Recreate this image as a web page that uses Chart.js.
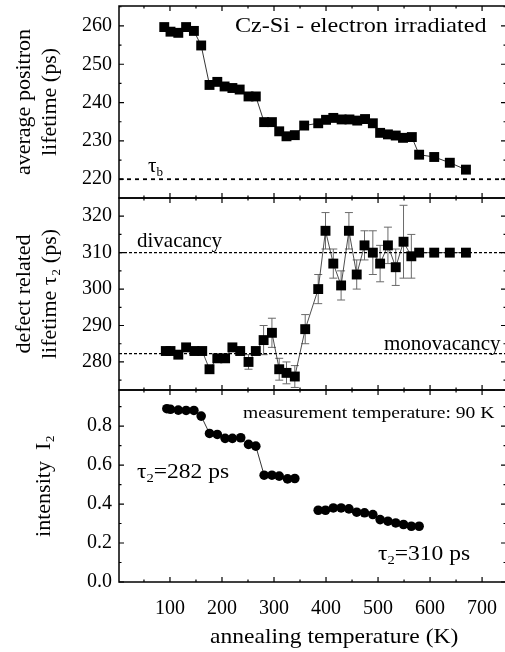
<!DOCTYPE html>
<html>
<head>
<meta charset="utf-8">
<script src="https://cdn.jsdelivr.net/npm/chart.js@4.4.1/dist/chart.umd.min.js"></script>
<style>
  html, body { margin: 0; padding: 0; background: #fff; overflow: hidden; }
  #wrap { position: relative; width: 505px; height: 652px; overflow: hidden; }
  canvas { position: absolute; left: 0; }
</style>
</head>
<body>
<div id="wrap">
  <canvas id="c-top" width="510" height="200" style="top:0px"></canvas>
  <canvas id="c-mid" width="510" height="210" style="top:190px"></canvas>
  <canvas id="c-bot" width="510" height="270" style="top:382px"></canvas>
</div>
<script>
// 数据
// 上: 平均正电子寿命
const tempAvg = [89, 101, 116, 131, 146, 160, 176, 191, 205, 220, 234, 251, 265, 281, 296, 310, 324, 340, 358,
  385, 400, 414, 430, 445, 460, 475, 490, 504, 519, 534, 548, 565, 579, 608, 638, 669];
const avgLifetime = [259.7, 258.5, 258.2, 259.7, 258.7, 254.9, 244.6, 245.4, 244.2, 243.8, 243.4, 241.6, 241.6,
  234.9, 234.9, 232.5, 231.2, 231.5, 234.0, 234.6, 235.5, 236.0, 235.6, 235.6, 235.3, 235.7, 234.6,
  232.1, 231.7, 231.4, 230.8, 231.0, 226.4, 225.8, 224.3, 222.5];
const tauBulk = 220;

// 中: 缺陷相关寿命 tau2 及误差
const tempTau2 = [92, 101, 116, 131, 147, 162, 176, 191, 206, 220, 235, 251, 265, 280, 296, 310, 324, 340, 360,
  385, 399, 414, 429, 444, 459, 474, 490, 504, 519, 534, 549, 564, 579, 608, 638, 669];
const tau2 = [283, 283, 282, 284, 283, 283, 278, 281, 281, 284, 283, 280, 283, 286, 288, 278, 277, 276, 289,
  300, 316, 307, 301, 316, 304, 312, 310, 307, 312, 306, 313, 309, 310, 310, 310, 310];
const tau2Err = [0, 0, 0, 0, 0, 0, 0, 0, 0, 0, 0, 2, 0, 4, 4, 3, 3, 3, 4,
  4, 5, 4, 4, 5, 4, 4, 6, 5, 5, 5, 10, 6, 0, 0, 0, 0];
const divacancy = 310;
const monovacancy = 282.3;

// 下: 强度 I2 (两段)
const tempI2Low = [94, 101, 116, 131, 146, 160, 176, 191, 206, 220, 236, 251, 265, 281, 296, 310, 326, 340];
const i2Low = [0.889, 0.886, 0.882, 0.880, 0.880, 0.851, 0.762, 0.757, 0.737, 0.737, 0.740, 0.706, 0.697,
  0.548, 0.548, 0.543, 0.529, 0.531];
const tempI2High = [385, 399, 414, 429, 444, 459, 474, 490, 504, 519, 534, 549, 564, 579];
const i2High = [0.368, 0.368, 0.380, 0.380, 0.375, 0.358, 0.355, 0.346, 0.320, 0.312, 0.303, 0.295, 0.286, 0.286];

// 刻度
const xMin = 2, xMax = 746;
const xMajor = [100, 200, 300, 400, 500, 600, 700];
const xMinor = [50, 150, 250, 350, 450, 550, 650, 750];
const yTopMajor = [220, 230, 240, 250, 260];
const yTopMinor = [225, 235, 245, 255, 265];
const yMidMajor = [280, 290, 300, 310, 320];
const yMidMinor = [275, 285, 295, 305, 315];
const yBotMajor = [0, 0.2, 0.4, 0.6, 0.8];
const yBotMinor = [0.1, 0.3, 0.5, 0.7, 0.9];

const SERIF = "'Liberation Serif', 'DejaVu Serif', serif";
const pts = (xs, ys) => xs.map((x, i) => ({ x, y: ys[i] }));

// 边框与向内的刻度线
function makeFrame(yMajor, yMinor) {
  return {
    id: 'frame',
    afterDraw(chart) {
      const { ctx, chartArea: a, scales: { x, y } } = chart;
      ctx.save();
      ctx.strokeStyle = '#000';
      ctx.lineWidth = 1.5;
      ctx.strokeRect(a.left, a.top, a.right - a.left, a.bottom - a.top);
      ctx.lineWidth = 1.2;
      ctx.beginPath();
      for (const [vals, len] of [[xMajor, 5], [xMinor, 2.5]]) {
        for (const v of vals) {
          const px = x.getPixelForValue(v);
          if (px < a.left || px > a.right) continue;
          ctx.moveTo(px, a.top); ctx.lineTo(px, a.top + len);
          ctx.moveTo(px, a.bottom); ctx.lineTo(px, a.bottom - len);
        }
      }
      for (const [vals, len] of [[yMajor, 5], [yMinor, 2.5]]) {
        for (const v of vals) {
          const py = y.getPixelForValue(v);
          if (py < a.top || py > a.bottom) continue;
          ctx.moveTo(a.left, py); ctx.lineTo(a.left + len, py);
          ctx.moveTo(a.right, py); ctx.lineTo(a.right - len, py);
        }
      }
      ctx.stroke();
      ctx.restore();
    }
  };
}

// 文字 (支持下标, 横向拉伸 sx): parts = [[text, isSub], ...]
function drawParts(ctx, parts, x, y, size, sx) {
  ctx.save();
  ctx.translate(x, y);
  ctx.scale(sx || 1, 1);
  let cx = 0;
  for (const [t, sub] of parts) {
    const s = sub ? size * 0.62 : size;
    ctx.font = `${s}px ${SERIF}`;
    ctx.fillText(t, cx, sub ? size * 0.2 : 0);
    cx += ctx.measureText(t).width;
  }
  ctx.restore();
}
function makeLabels(items) {
  return {
    id: 'labels',
    afterDraw(chart) {
      const ctx = chart.ctx;
      ctx.save();
      ctx.fillStyle = '#000';
      ctx.textBaseline = 'alphabetic';
      for (const it of items) drawParts(ctx, it.parts, it.x, it.y, it.size, it.sx);
      ctx.restore();
    }
  };
}

// 误差棒
function makeErrorBars(xs, ys, errs) {
  return {
    id: 'errorBars',
    beforeDatasetsDraw(chart) {
      const { ctx, scales: { x, y } } = chart;
      ctx.save();
      ctx.strokeStyle = '#6a6a6a';
      ctx.lineWidth = 1;
      ctx.beginPath();
      xs.forEach((t, i) => {
        if (!errs[i]) return;
        const px = x.getPixelForValue(t);
        const y1 = y.getPixelForValue(ys[i] + errs[i]);
        const y2 = y.getPixelForValue(ys[i] - errs[i]);
        ctx.moveTo(px, y1); ctx.lineTo(px, y2);
        ctx.moveTo(px - 4, y1); ctx.lineTo(px + 4, y1);
        ctx.moveTo(px - 4, y2); ctx.lineTo(px + 4, y2);
      });
      ctx.stroke();
      ctx.restore();
    }
  };
}

function yAxis(min, max, ticks, title, titlePad, fmt) {
  return {
    min, max,
    afterFit: s => { s.width = 119; s.paddingTop = 0; s.paddingBottom = 0; },
    afterBuildTicks: s => { s.ticks = ticks.map(v => ({ value: v })); },
    grid: { display: false, drawTicks: false },
    border: { display: false },
    ticks: { color: '#000', padding: 7, font: { family: SERIF, size: 20 }, callback: fmt || (v => v) },
    title: { display: true, text: title, color: '#000', padding: { top: titlePad, bottom: 0 },
      font: { family: SERIF, size: 22, lineHeight: 1.15 } }
  };
}

function xAxis(show) {
  return {
    type: 'linear', min: xMin, max: xMax, display: show,
    afterFit: s => { if (show) s.height = 70; s.paddingLeft = 0; s.paddingRight = 0; },
    afterBuildTicks: s => { s.ticks = xMajor.map(v => ({ value: v })); },
    grid: { display: false, drawTicks: false },
    border: { display: false },
    ticks: { color: '#000', padding: 15, maxRotation: 0, font: { family: SERIF, size: 20 } }
  };
}

function refLine(v, dash, width) {
  return {
    data: [{ x: xMin, y: v }, { x: xMax, y: v }],
    borderColor: '#000', borderWidth: width, borderDash: dash,
    pointRadius: 0, showLine: true, fill: false
  };
}

const baseOpts = {
  responsive: false,
  animation: false,
  events: [],
  plugins: { legend: { display: false }, tooltip: { enabled: false } }
};

// 上图
new Chart(document.getElementById('c-top'), {
  type: 'scatter',
  data: {
    datasets: [
      {
        data: pts(tempAvg, avgLifetime), showLine: true,
        borderColor: '#000', borderWidth: 0.8,
        pointStyle: 'rect', pointRadius: 7, pointBackgroundColor: '#000', pointBorderWidth: 0
      },
      refLine(tauBulk, [4, 4], 1.8)
    ]
  },
  options: {
    ...baseOpts,
    layout: { autoPadding: false, padding: { top: 6, bottom: 2, left: 0, right: 4 } },
    scales: {
      x: xAxis(false),
      y: yAxis(215.1, 265.2, yTopMajor, ['average positron', 'lifetime (ps)'], 12)
    }
  },
  plugins: [
    makeFrame(yTopMajor, yTopMinor),
    makeLabels([
      { parts: [['Cz-Si - electron irradiated', false]], x: 235, y: 32, size: 21, sx: 1.15 },
      { parts: [['τ', false], ['b', true]], x: 148, y: 172, size: 21 }
    ])
  ]
});

// 中图
new Chart(document.getElementById('c-mid'), {
  type: 'scatter',
  data: {
    datasets: [
      {
        data: pts(tempTau2, tau2), showLine: true,
        borderColor: '#222', borderWidth: 0.8,
        pointStyle: 'rect', pointRadius: 7, pointBackgroundColor: '#000', pointBorderWidth: 0
      },
      refLine(divacancy, [3, 2], 1.3),
      refLine(monovacancy, [3, 2], 1.3)
    ]
  },
  options: {
    ...baseOpts,
    layout: { autoPadding: false, padding: { top: 8, bottom: 10, left: 0, right: 4 } },
    scales: {
      x: xAxis(false),
      y: yAxis(272.3, 325, yMidMajor, ['defect related', 'lifetime τ₂ (ps)'], 12)
    }
  },
  plugins: [
    makeErrorBars(tempTau2, tau2, tau2Err),
    makeFrame(yMidMajor, yMidMinor),
    makeLabels([
      { parts: [['divacancy', false]], x: 137, y: 57, size: 21 },
      { parts: [['monovacancy', false]], x: 384, y: 160, size: 21 }
    ])
  ]
});

// 下图
const circle = {
  showLine: true, borderColor: '#000', borderWidth: 0.8,
  pointStyle: 'circle', pointRadius: 4.8, pointBackgroundColor: '#000', pointBorderWidth: 0
};
new Chart(document.getElementById('c-bot'), {
  type: 'scatter',
  data: {
    datasets: [
      { ...circle, data: pts(tempI2Low, i2Low) },
      { ...circle, data: pts(tempI2High, i2High) }
    ]
  },
  options: {
    ...baseOpts,
    layout: { autoPadding: false, padding: { top: 8, bottom: 0, left: 0, right: 4 } },
    scales: {
      x: xAxis(true),
      y: yAxis(0, 0.985, yBotMajor, 'intensity  I₂', 32, v => v.toFixed(1))
    }
  },
  plugins: [
    makeFrame(yBotMajor, yBotMinor),
    makeLabels([
      { parts: [['measurement temperature: 90 K', false]], x: 243, y: 36, size: 17, sx: 1.15 },
      { parts: [['τ', false], ['2', true], ['=282 ps', false]], x: 137, y: 96, size: 21, sx: 1.12 },
      { parts: [['τ', false], ['2', true], ['=310 ps', false]], x: 378, y: 178, size: 21, sx: 1.12 },
      { parts: [['annealing temperature (K)', false]], x: 210, y: 261, size: 22, sx: 1.07 }
    ])
  ]
});
</script>
</body>
</html>
